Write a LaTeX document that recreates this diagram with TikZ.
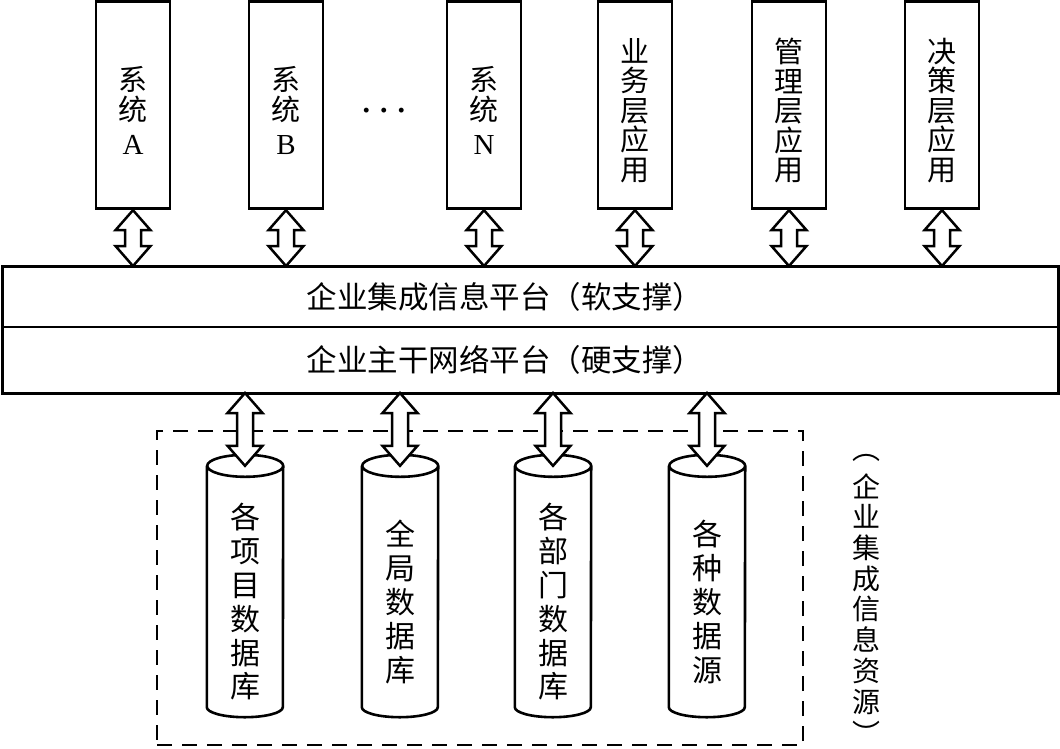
\documentclass[tikz,border=0pt]{standalone}
\usepackage{fontspec}
\setmainfont{Liberation Serif}
\newfontfamily\cjk{Noto Sans CJK SC}
\usetikzlibrary{calc}
\newcommand{\ebox}[3]{%
  \node[ebox] (#1) at (#2,105.25) {};
  \node[eboxtext] (#1-t) at (#2,110.5) {#3};}
\newcommand{\ecyl}[3]{%
  \node[ecyl] (#1) at (#2,586) {};
  \node[ecyltext] (#1-t) at (#2,602) {#3};
  \draw[cylline] ([yshift=-11pt]#1.north west) -- ([yshift=10pt]#1.south west)
    arc[start angle=180,end angle=360,x radius=38pt,y radius=10pt]
    -- ([yshift=-11pt]#1.north east)
    arc[start angle=0,end angle=360,x radius=38pt,y radius=11pt];}
\newcommand{\dblarrow}[2]{%
  \draw[dblarr] let \p1=(#1), \p2=(#2) in
    (\p1) -- (\x1+17.5pt,\y1-20pt) -- (\x1+8pt,\y1-20pt) -- (\x1+8pt,\y2+20pt)
    -- (\x1+17.5pt,\y2+20pt) -- (\x1,\y2) -- (\x1-17.5pt,\y2+20pt)
    -- (\x1-8pt,\y2+20pt) -- (\x1-8pt,\y1-20pt) -- (\x1-17.5pt,\y1-20pt) -- cycle;}

\begin{document}
\begin{tikzpicture}[x=1pt,y=-1pt,
    ebox/.style={draw,line width=2.8pt,minimum width=74pt,minimum height=207pt,inner sep=0pt},
    eboxtext/.style={inner sep=0pt,align=center,font=\cjk\fontsize{29}{29.5}\selectfont},
    plat/.style={draw,line width=2pt,minimum width=1056pt,inner sep=0pt,outer sep=0pt,
      font=\cjk\fontsize{30.5}{34}\selectfont},
    ecyl/.style={minimum width=76pt,minimum height=262pt,inner sep=0pt},
    ecyltext/.style={inner sep=0pt,align=center,font=\cjk\fontsize{30}{33.8}\selectfont},
    cylline/.style={line width=2.6pt},
    srcframe/.style={draw,line width=1.8pt,dash pattern=on 15pt off 10pt,
      minimum width=646pt,minimum height=314pt,inner sep=0pt},
    dblarr/.style={draw,fill=white,line width=2.5pt,line join=miter}]
  \useasboundingbox (0,0) rectangle (1060,748);
  % applications
  \ebox{sysa}{133}{系\\统\\[5pt]{\rmfamily A}}
  \ebox{sysb}{286}{系\\统\\[5pt]{\rmfamily B}}
  \ebox{sysn}{484}{系\\统\\[5pt]{\rmfamily N}}
  \ebox{busi}{635}{业\\务\\层\\应\\用}
  \ebox{mgmt}{789}{管\\理\\层\\应\\用}
  \ebox{deci}{942}{决\\策\\层\\应\\用}
  \node[font=\fontsize{30}{34}\selectfont\bfseries] (dots) at (384,114) {·\hspace{7.5pt}·\hspace{7.5pt}·};
  % platform
  \node[plat,minimum height=61pt] (soft) at (530,296.5) {企业集成信息平台（软支撑）\hspace*{50pt}};
  \node[plat,minimum height=66pt] (hard) at (530,360) {企业主干网络平台（硬支撑）\hspace*{50pt}};
  \draw[line width=3pt] (soft.north west) rectangle (hard.south east);
  % data sources
  \node[srcframe] (srcframe) at (480,588) {};
  \ecyl{dba}{245}{各\\项\\目\\数\\据\\库}
  \ecyl{dbb}{400}{全\\局\\数\\据\\库}
  \ecyl{dbc}{553}{各\\部\\门\\数\\据\\库}
  \ecyl{dbd}{707}{各\\种\\数\\据\\源}
  \node[align=center,font=\cjk\fontsize{28}{30.7}\selectfont] (srclabel) at (866,599.5)
    {︵\\[7pt]企\\业\\集\\成\\信\\息\\资\\源\\[2pt]︶};
  % links
  \foreach \b in {sysa,sysb,sysn,busi,mgmt,deci}
    \dblarrow{\b.south}{\b.south |- soft.north};
  \foreach \d in {dba,dbb,dbc,dbd}
    \dblarrow{hard.south -| \d.north}{$(\d.north)+(0,11)$};
\end{tikzpicture}
\end{document}
